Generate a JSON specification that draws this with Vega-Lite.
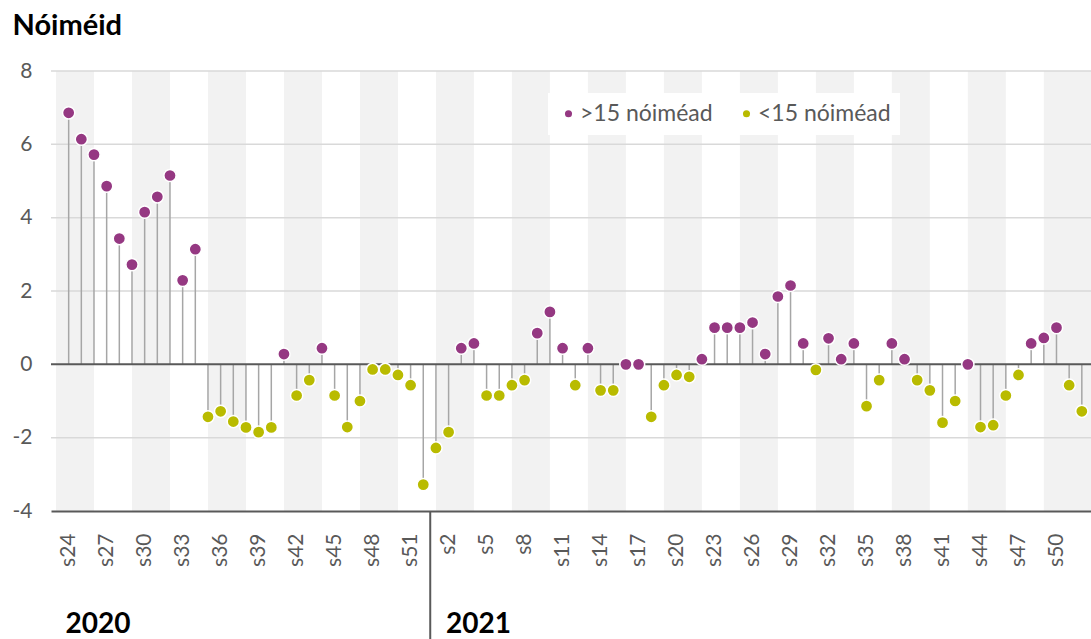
{
  "$schema": "https://vega.github.io/schema/vega-lite/v6.json",
  "width": 1040,
  "height": 440,
  "autosize": {"type": "none"},
  "padding": {"left": 51, "top": 71, "right": 0, "bottom": 128},
  "background": "white",
  "config": {"font": "Lato", "view": {"stroke": null}},
  "datasets": {
    "sonrai": [
      {"n": 0, "bliain": 2020, "seachtain": 24, "luach": 6.86, "grupa": ">15 nóiméad"},
      {"n": 1, "bliain": 2020, "seachtain": 25, "luach": 6.14, "grupa": ">15 nóiméad"},
      {"n": 2, "bliain": 2020, "seachtain": 26, "luach": 5.72, "grupa": ">15 nóiméad"},
      {"n": 3, "bliain": 2020, "seachtain": 27, "luach": 4.86, "grupa": ">15 nóiméad"},
      {"n": 4, "bliain": 2020, "seachtain": 28, "luach": 3.43, "grupa": ">15 nóiméad"},
      {"n": 5, "bliain": 2020, "seachtain": 29, "luach": 2.72, "grupa": ">15 nóiméad"},
      {"n": 6, "bliain": 2020, "seachtain": 30, "luach": 4.15, "grupa": ">15 nóiméad"},
      {"n": 7, "bliain": 2020, "seachtain": 31, "luach": 4.57, "grupa": ">15 nóiméad"},
      {"n": 8, "bliain": 2020, "seachtain": 32, "luach": 5.15, "grupa": ">15 nóiméad"},
      {"n": 9, "bliain": 2020, "seachtain": 33, "luach": 2.29, "grupa": ">15 nóiméad"},
      {"n": 10, "bliain": 2020, "seachtain": 34, "luach": 3.14, "grupa": ">15 nóiméad"},
      {"n": 11, "bliain": 2020, "seachtain": 35, "luach": -1.43, "grupa": "<15 nóiméad"},
      {"n": 12, "bliain": 2020, "seachtain": 36, "luach": -1.28, "grupa": "<15 nóiméad"},
      {"n": 13, "bliain": 2020, "seachtain": 37, "luach": -1.56, "grupa": "<15 nóiméad"},
      {"n": 14, "bliain": 2020, "seachtain": 38, "luach": -1.72, "grupa": "<15 nóiméad"},
      {"n": 15, "bliain": 2020, "seachtain": 39, "luach": -1.85, "grupa": "<15 nóiméad"},
      {"n": 16, "bliain": 2020, "seachtain": 40, "luach": -1.72, "grupa": "<15 nóiméad"},
      {"n": 17, "bliain": 2020, "seachtain": 41, "luach": 0.28, "grupa": ">15 nóiméad"},
      {"n": 18, "bliain": 2020, "seachtain": 42, "luach": -0.85, "grupa": "<15 nóiméad"},
      {"n": 19, "bliain": 2020, "seachtain": 43, "luach": -0.43, "grupa": "<15 nóiméad"},
      {"n": 20, "bliain": 2020, "seachtain": 44, "luach": 0.44, "grupa": ">15 nóiméad"},
      {"n": 21, "bliain": 2020, "seachtain": 45, "luach": -0.85, "grupa": "<15 nóiméad"},
      {"n": 22, "bliain": 2020, "seachtain": 46, "luach": -1.71, "grupa": "<15 nóiméad"},
      {"n": 23, "bliain": 2020, "seachtain": 47, "luach": -1.0, "grupa": "<15 nóiméad"},
      {"n": 24, "bliain": 2020, "seachtain": 48, "luach": -0.14, "grupa": "<15 nóiméad"},
      {"n": 25, "bliain": 2020, "seachtain": 49, "luach": -0.14, "grupa": "<15 nóiméad"},
      {"n": 26, "bliain": 2020, "seachtain": 50, "luach": -0.29, "grupa": "<15 nóiméad"},
      {"n": 27, "bliain": 2020, "seachtain": 51, "luach": -0.57, "grupa": "<15 nóiméad"},
      {"n": 28, "bliain": 2020, "seachtain": 52, "luach": -3.28, "grupa": "<15 nóiméad"},
      {"n": 29, "bliain": 2021, "seachtain": 1, "luach": -2.28, "grupa": "<15 nóiméad"},
      {"n": 30, "bliain": 2021, "seachtain": 2, "luach": -1.85, "grupa": "<15 nóiméad"},
      {"n": 31, "bliain": 2021, "seachtain": 3, "luach": 0.44, "grupa": ">15 nóiméad"},
      {"n": 32, "bliain": 2021, "seachtain": 4, "luach": 0.57, "grupa": ">15 nóiméad"},
      {"n": 33, "bliain": 2021, "seachtain": 5, "luach": -0.85, "grupa": "<15 nóiméad"},
      {"n": 34, "bliain": 2021, "seachtain": 6, "luach": -0.85, "grupa": "<15 nóiméad"},
      {"n": 35, "bliain": 2021, "seachtain": 7, "luach": -0.57, "grupa": "<15 nóiméad"},
      {"n": 36, "bliain": 2021, "seachtain": 8, "luach": -0.43, "grupa": "<15 nóiméad"},
      {"n": 37, "bliain": 2021, "seachtain": 9, "luach": 0.85, "grupa": ">15 nóiméad"},
      {"n": 38, "bliain": 2021, "seachtain": 10, "luach": 1.43, "grupa": ">15 nóiméad"},
      {"n": 39, "bliain": 2021, "seachtain": 11, "luach": 0.44, "grupa": ">15 nóiméad"},
      {"n": 40, "bliain": 2021, "seachtain": 12, "luach": -0.57, "grupa": "<15 nóiméad"},
      {"n": 41, "bliain": 2021, "seachtain": 13, "luach": 0.44, "grupa": ">15 nóiméad"},
      {"n": 42, "bliain": 2021, "seachtain": 14, "luach": -0.71, "grupa": "<15 nóiméad"},
      {"n": 43, "bliain": 2021, "seachtain": 15, "luach": -0.71, "grupa": "<15 nóiméad"},
      {"n": 44, "bliain": 2021, "seachtain": 16, "luach": 0.0, "grupa": ">15 nóiméad"},
      {"n": 45, "bliain": 2021, "seachtain": 17, "luach": 0.0, "grupa": ">15 nóiméad"},
      {"n": 46, "bliain": 2021, "seachtain": 18, "luach": -1.43, "grupa": "<15 nóiméad"},
      {"n": 47, "bliain": 2021, "seachtain": 19, "luach": -0.57, "grupa": "<15 nóiméad"},
      {"n": 48, "bliain": 2021, "seachtain": 20, "luach": -0.29, "grupa": "<15 nóiméad"},
      {"n": 49, "bliain": 2021, "seachtain": 21, "luach": -0.34, "grupa": "<15 nóiméad"},
      {"n": 50, "bliain": 2021, "seachtain": 22, "luach": 0.14, "grupa": ">15 nóiméad"},
      {"n": 51, "bliain": 2021, "seachtain": 23, "luach": 1.0, "grupa": ">15 nóiméad"},
      {"n": 52, "bliain": 2021, "seachtain": 24, "luach": 1.0, "grupa": ">15 nóiméad"},
      {"n": 53, "bliain": 2021, "seachtain": 25, "luach": 1.0, "grupa": ">15 nóiméad"},
      {"n": 54, "bliain": 2021, "seachtain": 26, "luach": 1.14, "grupa": ">15 nóiméad"},
      {"n": 55, "bliain": 2021, "seachtain": 27, "luach": 0.28, "grupa": ">15 nóiméad"},
      {"n": 56, "bliain": 2021, "seachtain": 28, "luach": 1.85, "grupa": ">15 nóiméad"},
      {"n": 57, "bliain": 2021, "seachtain": 29, "luach": 2.15, "grupa": ">15 nóiméad"},
      {"n": 58, "bliain": 2021, "seachtain": 30, "luach": 0.57, "grupa": ">15 nóiméad"},
      {"n": 59, "bliain": 2021, "seachtain": 31, "luach": -0.15, "grupa": "<15 nóiméad"},
      {"n": 60, "bliain": 2021, "seachtain": 32, "luach": 0.71, "grupa": ">15 nóiméad"},
      {"n": 61, "bliain": 2021, "seachtain": 33, "luach": 0.14, "grupa": ">15 nóiméad"},
      {"n": 62, "bliain": 2021, "seachtain": 34, "luach": 0.57, "grupa": ">15 nóiméad"},
      {"n": 63, "bliain": 2021, "seachtain": 35, "luach": -1.14, "grupa": "<15 nóiméad"},
      {"n": 64, "bliain": 2021, "seachtain": 36, "luach": -0.43, "grupa": "<15 nóiméad"},
      {"n": 65, "bliain": 2021, "seachtain": 37, "luach": 0.57, "grupa": ">15 nóiméad"},
      {"n": 66, "bliain": 2021, "seachtain": 38, "luach": 0.14, "grupa": ">15 nóiméad"},
      {"n": 67, "bliain": 2021, "seachtain": 39, "luach": -0.43, "grupa": "<15 nóiméad"},
      {"n": 68, "bliain": 2021, "seachtain": 40, "luach": -0.71, "grupa": "<15 nóiméad"},
      {"n": 69, "bliain": 2021, "seachtain": 41, "luach": -1.59, "grupa": "<15 nóiméad"},
      {"n": 70, "bliain": 2021, "seachtain": 42, "luach": -1.0, "grupa": "<15 nóiméad"},
      {"n": 71, "bliain": 2021, "seachtain": 43, "luach": 0.0, "grupa": ">15 nóiméad"},
      {"n": 72, "bliain": 2021, "seachtain": 44, "luach": -1.71, "grupa": "<15 nóiméad"},
      {"n": 73, "bliain": 2021, "seachtain": 45, "luach": -1.66, "grupa": "<15 nóiméad"},
      {"n": 74, "bliain": 2021, "seachtain": 46, "luach": -0.85, "grupa": "<15 nóiméad"},
      {"n": 75, "bliain": 2021, "seachtain": 47, "luach": -0.29, "grupa": "<15 nóiméad"},
      {"n": 76, "bliain": 2021, "seachtain": 48, "luach": 0.57, "grupa": ">15 nóiméad"},
      {"n": 77, "bliain": 2021, "seachtain": 49, "luach": 0.72, "grupa": ">15 nóiméad"},
      {"n": 78, "bliain": 2021, "seachtain": 50, "luach": 1.0, "grupa": ">15 nóiméad"},
      {"n": 79, "bliain": 2021, "seachtain": 51, "luach": -0.57, "grupa": "<15 nóiméad"},
      {"n": 80, "bliain": 2021, "seachtain": 52, "luach": -1.28, "grupa": "<15 nóiméad"}
    ],
    "bandai": [
      {"o": -1, "go": 2}, {"o": 5, "go": 8}, {"o": 11, "go": 14}, {"o": 17, "go": 20},
      {"o": 23, "go": 26}, {"o": 29, "go": 32}, {"o": 35, "go": 38}, {"o": 41, "go": 44},
      {"o": 47, "go": 50}, {"o": 53, "go": 56}, {"o": 59, "go": 62}, {"o": 65, "go": 68},
      {"o": 71, "go": 74}, {"o": 77, "go": 83}
    ],
    "eangach": [{"g": -2}, {"g": 2}, {"g": 4}, {"g": 6}, {"g": 8}],
    "blianta": [{"bliain": "2020", "n": -0.25}, {"bliain": "2021", "n": 29.8}]
  },
  "layer": [
    {
      "data": {"name": "bandai"},
      "mark": {"type": "rect", "color": "#F2F2F2", "clip": true},
      "encoding": {
        "x": {
          "field": "o", "type": "quantitative",
          "scale": {"domain": [-1, 80.33], "nice": false, "zero": false},
          "axis": {
            "values": [0, 3, 6, 9, 12, 15, 18, 21, 24, 27, 30, 33, 36, 39, 42, 45, 48, 51, 54, 57, 60, 63, 66, 69, 72, 75, 78],
            "tickCount": 200,
            "labelExpr": "datum.value <= 28 ? 's' + (datum.value + 24) : 's' + (datum.value - 28)",
            "labelAngle": -90, "labelFontSize": 21, "labelColor": "#595959", "labelFont": "Lato",
            "labelPadding": 22, "ticks": false, "tickSize": 0, "grid": false,
            "domainColor": "#595959", "domainWidth": 2, "title": null, "zindex": 1,
            "labelOverlap": false, "labelFlush": false, "labelBound": false
          }
        },
        "x2": {"field": "go"}
      }
    },
    {
      "data": {"name": "eangach"},
      "mark": {"type": "rule", "color": "#D9D9D9", "strokeWidth": 1.5},
      "encoding": {
        "y": {
          "field": "g", "type": "quantitative",
          "scale": {"domain": [-4, 8], "nice": false, "zero": false},
          "axis": {
            "values": [-4, -2, 0, 2, 4, 6, 8],
            "tickCount": 20,
            "labelExpr": "datum.value < 0 ? '-' + abs(datum.value) : '' + datum.value",
            "labelFontSize": 21, "labelColor": "#595959", "labelFont": "Lato",
            "labelPadding": 19, "ticks": false, "tickSize": 0, "domain": false, "grid": false,
            "labelFlush": false,
            "title": "Nóiméid", "titleAngle": 0, "titleX": -39, "titleY": -37,
            "titleAlign": "left", "titleBaseline": "alphabetic",
            "titleFontSize": 29, "titleFontWeight": "bold", "titleColor": "#000000", "titleFont": "Lato"
          }
        }
      }
    },
    {
      "data": {"name": "sonrai"},
      "mark": {"type": "bar", "color": "#A6A6A6", "size": 1.5},
      "encoding": {
        "x": {"field": "n", "type": "quantitative"},
        "y": {"field": "luach", "type": "quantitative"}
      }
    },
    {
      "data": {"values": [{}]},
      "mark": {"type": "rule", "color": "#595959", "strokeWidth": 2},
      "encoding": {
        "y": {"datum": 0, "type": "quantitative"}
      }
    },
    {
      "data": {"name": "sonrai"},
      "mark": {"type": "circle", "size": 150, "opacity": 1, "stroke": "white", "strokeWidth": 1.5, "clip": true},
      "encoding": {
        "x": {"field": "n", "type": "quantitative"},
        "y": {"field": "luach", "type": "quantitative"},
        "color": {
          "field": "grupa", "type": "nominal",
          "scale": {"domain": [">15 nóiméad", "<15 nóiméad"], "range": ["#953882", "#B9BB00"]},
          "legend": {
            "orient": "none", "legendX": 497, "legendY": 22, "direction": "horizontal",
            "title": null, "fillColor": "white", "padding": 9,
            "symbolType": "circle", "symbolSize": 50, "symbolStrokeWidth": 0,
            "labelFontSize": 23, "labelColor": "#595959", "labelFont": "Lato",
            "columnPadding": 22, "labelOffset": 0
          }
        }
      }
    },
    {
      "data": {"values": [{}]},
      "mark": {"type": "rule", "color": "#595959", "strokeWidth": 2},
      "encoding": {
        "x": {"datum": 28.55, "type": "quantitative"},
        "y": {"datum": -4, "type": "quantitative"},
        "y2": {"datum": -7.7}
      }
    },
    {
      "data": {"name": "blianta"},
      "mark": {"type": "text", "align": "left", "baseline": "alphabetic", "fontSize": 28, "fontWeight": "bold", "color": "#000000", "font": "Lato"},
      "encoding": {
        "x": {"field": "n", "type": "quantitative"},
        "y": {"datum": -7.33, "type": "quantitative"},
        "text": {"field": "bliain"}
      }
    }
  ]
}
